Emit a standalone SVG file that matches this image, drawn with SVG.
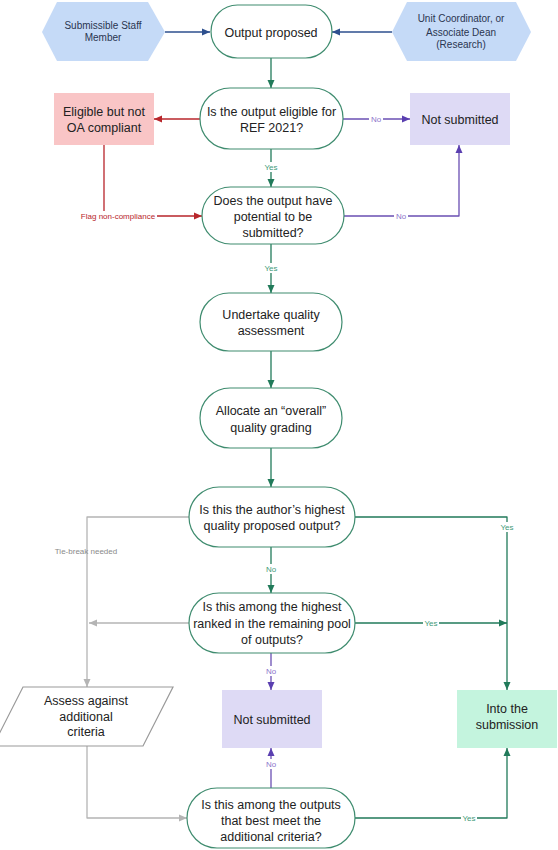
<svg xmlns="http://www.w3.org/2000/svg" width="558" height="850" viewBox="0 0 558 850">
<defs>
<style>
.t{font-family:"Liberation Sans",Arial,sans-serif;font-size:12.5px;fill:#222;text-anchor:middle}
.h{font-family:"Liberation Sans",Arial,sans-serif;font-size:10px;fill:#2a3550;text-anchor:middle}
.l{font-family:"Liberation Sans",Arial,sans-serif;font-size:8px;text-anchor:middle}
.rn{fill:#fff;stroke:#3f8c6f;stroke-width:1.2}
.hex{fill:#c5daf7;stroke:none}
.c{fill:none;stroke-width:1.3;stroke-linejoin:round}
.g{stroke:#217a5a}.b{stroke:#2d4f8e}.r{stroke:#b8262b}.p{stroke:#6a4fb3}.gr{stroke:#b4b4b4}
.lg{fill:#3f9a78}.lp{fill:#8b74cc}.lr{fill:#b8262b}.lgr{fill:#8a8a8a}
</style>
<marker id="ag" markerWidth="8" markerHeight="8" refX="8" refY="4" orient="auto" markerUnits="userSpaceOnUse"><path d="M0,0.5 L8,4 L0,7.5 Z" fill="#217a5a"/></marker>
<marker id="ab" markerWidth="8" markerHeight="8" refX="8" refY="4" orient="auto" markerUnits="userSpaceOnUse"><path d="M0,0.5 L8,4 L0,7.5 Z" fill="#2d4f8e"/></marker>
<marker id="ar" markerWidth="8" markerHeight="8" refX="8" refY="4" orient="auto" markerUnits="userSpaceOnUse"><path d="M0,0.5 L8,4 L0,7.5 Z" fill="#b8262b"/></marker>
<marker id="ap" markerWidth="8" markerHeight="8" refX="8" refY="4" orient="auto" markerUnits="userSpaceOnUse"><path d="M0,0.5 L8,4 L0,7.5 Z" fill="#5a3fb0"/></marker>
<marker id="agr" markerWidth="8" markerHeight="8" refX="8" refY="4" orient="auto" markerUnits="userSpaceOnUse"><path d="M0,0.5 L8,4 L0,7.5 Z" fill="#b4b4b4"/></marker>
</defs>
<rect width="558" height="850" fill="#fff"/>

<g id="connectors">
<path class="c b" d="M165,32 H210" marker-end="url(#ab)"/>
<path class="c b" d="M392,32 H332" marker-end="url(#ab)"/>
<path class="c g" d="M271,58 V88" marker-end="url(#ag)"/>
<path class="c r" d="M200,119 H154" marker-end="url(#ar)"/>
<path class="c p" d="M343,119 H410" marker-end="url(#ap)"/>
<path class="c g" d="M271,149 V187" marker-end="url(#ag)"/>
<path class="c r" d="M104,145 V216 H202" marker-end="url(#ar)"/>
<path class="c p" d="M344,216 H459 V145" marker-end="url(#ap)"/>
<path class="c g" d="M271,244 V293" marker-end="url(#ag)"/>
<path class="c g" d="M271,351 V388" marker-end="url(#ag)"/>
<path class="c g" d="M271,448 V487" marker-end="url(#ag)"/>
<path class="c gr" d="M189,517 H87 V687" marker-end="url(#agr)"/>
<path class="c g" d="M355,517 H507 V690" marker-end="url(#ag)"/>
<path class="c g" d="M271,547 V593" marker-end="url(#ag)"/>
<path class="c gr" d="M189,623 H89" marker-end="url(#agr)"/>
<path class="c g" d="M355,623 H507" marker-end="url(#ag)"/>
<path class="c p" d="M271,653 V690" marker-end="url(#ap)"/>
<path class="c gr" d="M87,746 V818 H187" marker-end="url(#agr)"/>
<path class="c p" d="M271,788 V748" marker-end="url(#ap)"/>
<path class="c g" d="M355,818 H507 V748" marker-end="url(#ag)"/>

<rect x="369" y="114" width="14" height="10" fill="#fff"/><text class="l lp" x="376" y="122">No</text>
<rect x="263" y="162" width="16" height="10" fill="#fff"/><text class="l lg" x="271" y="170">Yes</text>
<rect x="79" y="211" width="78" height="10" fill="#fff"/><text class="l lr" x="118" y="219">Flag non-compliance</text>
<rect x="394" y="211" width="14" height="10" fill="#fff"/><text class="l lp" x="401" y="219">No</text>
<rect x="263" y="263" width="16" height="10" fill="#fff"/><text class="l lg" x="271" y="271">Yes</text>
<text class="l lgr" x="86" y="554">Tie-break needed</text>
<rect x="499" y="522" width="16" height="10" fill="#fff"/><text class="l lg" x="507" y="530">Yes</text>
<rect x="264" y="564" width="14" height="10" fill="#fff"/><text class="l lg" x="271" y="572">No</text>
<rect x="423" y="618" width="16" height="10" fill="#fff"/><text class="l lg" x="431" y="626">Yes</text>
<rect x="264" y="666" width="14" height="10" fill="#fff"/><text class="l lp" x="271" y="674">No</text>
<rect x="264" y="759" width="14" height="10" fill="#fff"/><text class="l lp" x="271" y="767">No</text>
<rect x="461" y="813" width="16" height="10" fill="#fff"/><text class="l lg" x="469" y="821">Yes</text>
</g>

<g id="staff">
<polygon class="hex" points="42,32 57,2 148,2 165,32 148,61 57,61"/>
<text class="h" x="103" y="28.5">Submissible Staff</text>
<text class="h" x="103" y="41">Member</text>
</g>
<g id="coordinator">
<polygon class="hex" points="392,32 407,2 516,2 531,32 516,61 407,61"/>
<text class="h" x="461" y="21.5">Unit Coordinator, or</text>
<text class="h" x="461" y="35.5">Associate Dean</text>
<text class="h" x="461" y="48">(Research)</text>
</g>
<g id="output-proposed">
<rect class="rn" x="211" y="5" width="121" height="53" rx="26.5"/>
<text class="t" x="271" y="36.5">Output proposed</text>
</g>
<g id="eligible-not-oa">
<rect x="54" y="93" width="100" height="52" fill="#f9c5c6"/>
<text class="t" x="104" y="115.5">Eligible but not</text>
<text class="t" x="104" y="131.5">OA compliant</text>
</g>
<g id="q-eligible">
<rect class="rn" x="200" y="88" width="143" height="61" rx="30"/>
<text class="t" x="271.5" y="115.5">Is the output eligible for</text>
<text class="t" x="271.5" y="131.5">REF 2021?</text>
</g>
<g id="not-submitted-1">
<rect x="410" y="93" width="100" height="52" fill="#dedaf5"/>
<text class="t" x="460" y="123.5">Not submitted</text>
</g>
<g id="q-potential">
<rect class="rn" x="202" y="187" width="142" height="57" rx="28.5"/>
<text class="t" x="273" y="204.5">Does the output have</text>
<text class="t" x="273" y="221">potential to be</text>
<text class="t" x="273" y="236.5">submitted?</text>
</g>
<g id="undertake">
<rect class="rn" x="200" y="293" width="142" height="58" rx="29"/>
<text class="t" x="271" y="318.5">Undertake quality</text>
<text class="t" x="271" y="334.5">assessment</text>
</g>
<g id="allocate">
<rect class="rn" x="200" y="388" width="142" height="60" rx="30"/>
<text class="t" x="271" y="414.5">Allocate an “overall”</text>
<text class="t" x="271" y="431.5">quality grading</text>
</g>
<g id="q-highest">
<rect class="rn" x="189" y="487" width="166" height="60" rx="30"/>
<text class="t" x="272" y="513.5">Is this the author’s highest</text>
<text class="t" x="272" y="529.5">quality proposed output?</text>
</g>
<g id="q-ranked">
<rect class="rn" x="189" y="593" width="166" height="60" rx="30"/>
<text class="t" x="272" y="611">Is this among the highest</text>
<text class="t" x="272" y="627.5">ranked in the remaining pool</text>
<text class="t" x="272" y="643.5">of outputs?</text>
</g>
<g id="assess-criteria">
<polygon points="23,687 173,687 143,746 -7,746" fill="#fff" stroke="#9a9a9a" stroke-width="1.2"/>
<text class="t" x="86" y="705">Assess against</text>
<text class="t" x="86" y="720.5">additional</text>
<text class="t" x="86" y="736">criteria</text>
</g>
<g id="not-submitted-2">
<rect x="222" y="690" width="100" height="58" fill="#dedaf5"/>
<text class="t" x="272" y="723.5">Not submitted</text>
</g>
<g id="into-submission">
<rect x="457" y="690" width="100" height="58" fill="#c4f4de"/>
<text class="t" x="507" y="713">Into the</text>
<text class="t" x="507" y="729">submission</text>
</g>
<g id="q-criteria">
<rect class="rn" x="187" y="788" width="168" height="60" rx="30"/>
<text class="t" x="271" y="809">Is this among the outputs</text>
<text class="t" x="271" y="825">that best meet the</text>
<text class="t" x="271" y="840.5">additional criteria?</text>
</g>
</svg>
